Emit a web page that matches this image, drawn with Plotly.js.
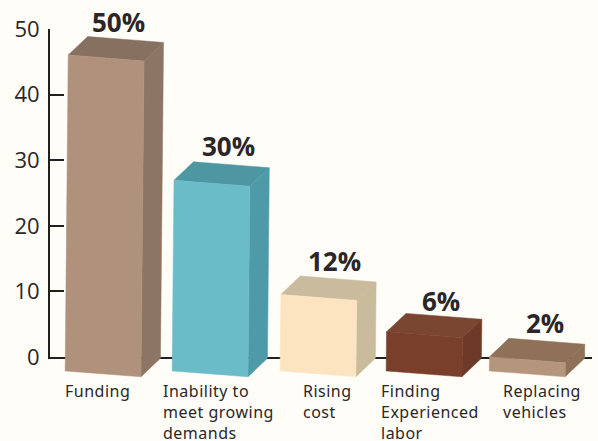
<!DOCTYPE html>
<html><head><meta charset="utf-8">
<script src="https://cdn.plot.ly/plotly-3.0.1.min.js"></script>
<style>html,body{margin:0;padding:0;background:#fefdf8}</style>
</head><body><div id="chart" style="width:598px;height:441px"></div>
<script>
const categories = ["Funding","Inability to<br>meet growing<br>demands","Rising<br>cost","Finding<br>Experienced<br>labor","Replacing<br>vehicles"];
const percentLabels = ["50%","30%","12%","6%","2%"];
const drawnHeights = [48.4,29.3,11.9,6.2,2.4];
const barPositions = [-0.028,0.988,2.013,3.02,4.0];
const categoryLabelX = [-0.399,0.527,1.861,2.602,3.76];
const percentLabelX = [0.123,1.159,2.165,3.181,4.169];
const percentLabelY = [51.07,32.2,14.6,8.5,5.2];
const frontColors = ["#b0917c","#6bbcc9","#fce4c0","#7a3f2b","#b5967d"];
const sideColors = ["#8d7564","#4f9aa8","#c9bb9c","#6e3a28","#8f7059"];
const topColors = ["#86705f","#4d97a3","#c9bb9c","#7a4632","#8f7059"];
const yTicks = [0,10,20,30,40,50];

const halfW = 0.36, depthX = 0.185, depthY = 2.82, skew = 0.45, lean = 0.0006, base = 0.25;
function pt(i,u,d,v){
  const h = v===0 ? base : drawnHeights[i];
  return [barPositions[i] + u*halfW + d*depthX + lean*(v?h:0), h - depthY*(1-d) - u*skew];
}
function face(i,corners,color){
  const p = corners.concat([corners[0]]).map(c=>pt(i,c[0],c[1],c[2]));
  return {x:p.map(q=>q[0]),y:p.map(q=>q[1]),xaxis:'x2',yaxis:'y2',mode:'lines',line:{width:0.5,color:color},fill:'toself',fillcolor:color,
    hoverinfo:'skip',showlegend:false,type:'scatter'};
}
// first subplot only carries the visible axes, the bars sit in a taller one above it
const traces=[{x:[0],y:[0],xaxis:'x',yaxis:'y',mode:'none',type:'scatter',hoverinfo:'skip',showlegend:false}];
categories.forEach((_,i)=>{
  traces.push(face(i,[[-1,0,1],[1,0,1],[1,1,1],[-1,1,1]],topColors[i]));
  traces.push(face(i,[[1,0,1],[1,1,1],[1,1,0],[1,0,0]],sideColors[i]));
  traces.push(face(i,[[-1,0,1],[1,0,1],[1,0,0],[-1,0,0]],frontColors[i]));
});
const annotations=[];
categories.forEach((c,i)=>{
  annotations.push({x:categoryLabelX[i],y:0,xref:'x2',yref:'y2',yshift:-22,text:'<span style="letter-spacing:0.5px">'+c+'</span>',showarrow:false,xanchor:'left',yanchor:'top',align:'left',
    font:{family:'"Noto Sans"',size:16,color:'#2b2627'},borderpad:0});
  annotations.push({x:percentLabelX[i],y:percentLabelY[i],xref:'x2',yref:'y2',text:'<b>'+percentLabels[i]+'</b>',showarrow:false,xanchor:'center',yanchor:'middle',
    font:{family:'"Open Sans"',size:26,color:'#2b2627'},borderpad:0});
});
const xRange=[-0.532,4.615];
const layout={
  width:598,height:441,margin:{l:50,r:6,t:20,b:56},
  paper_bgcolor:'#fefdf8',plot_bgcolor:'rgba(0,0,0,0)',showlegend:false,
  xaxis:{range:xRange,anchor:'y',showgrid:false,zeroline:false,showline:true,linewidth:2,linecolor:'#231f20',showticklabels:false,ticks:'',fixedrange:true},
  yaxis:{range:[0,50],domain:[0.0767,0.9753],anchor:'x',tickvals:yTicks,showgrid:false,zeroline:false,showline:true,linewidth:2,linecolor:'#231f20',ticks:'inside',ticklen:14,tickwidth:2,tickcolor:'#231f20',
    tickfont:{family:'"Open Sans"',size:22,color:'#2b2627'},ticklabelstandoff:4,fixedrange:true},
  xaxis2:{range:xRange,anchor:'y2',overlaying:'x',visible:false,fixedrange:true},
  yaxis2:{range:[-4.268,51.37],domain:[0,1],anchor:'x2',visible:false,fixedrange:true},
  annotations
};
Plotly.newPlot('chart',traces,layout,{displayModeBar:false,staticPlot:true});
</script></body></html>
